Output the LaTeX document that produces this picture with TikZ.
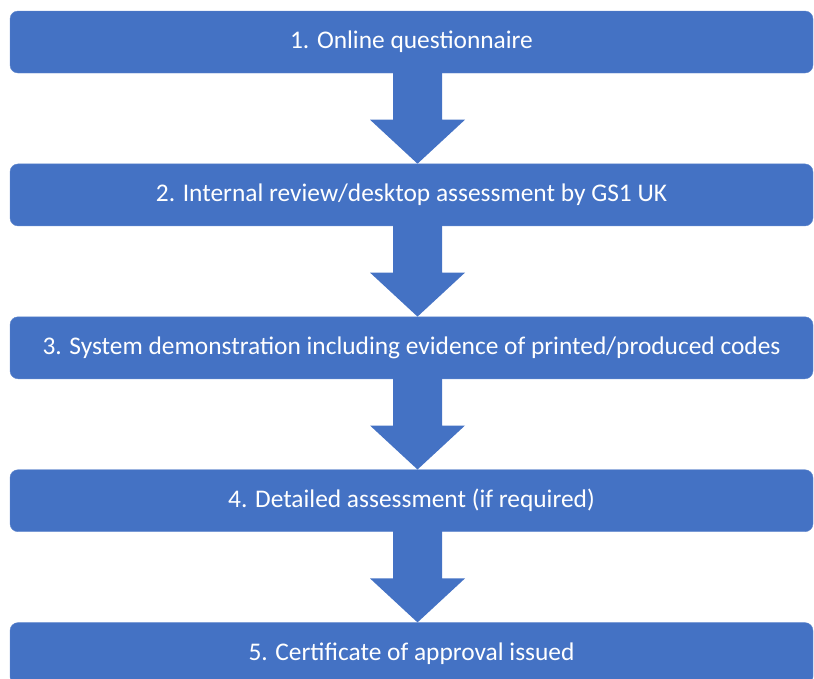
\documentclass[tikz,border=0pt]{standalone}
\usepackage{fontspec}
\setmainfont{Carlito}
\usetikzlibrary{positioning,calc}

\definecolor{officeblue}{HTML}{4472C4}

% block arrow between two steps
\newcommand{\flowarrow}[2]{%
  \fill[officeblue] let \p1=(#1.south), \p2=(#2.north) in
    (\x1-18.5pt,\y1+1pt) -- (\x1+30.5pt,\y1+1pt) -- (\x1+30.5pt,\y2+44pt)
    -- (\x1+53.5pt,\y2+44pt) -- (\x1+6pt,\y2) -- (\x1-41.5pt,\y2+44pt)
    -- (\x1-18.5pt,\y2+44pt) -- cycle;}

\begin{document}
\begin{tikzpicture}[x=1pt,y=-1pt,node distance=90.5pt,
    stepbox/.style={rectangle,rounded corners=8pt,fill=officeblue,
      draw=officeblue!85!white,minimum width=803pt,minimum height=62pt,
      inner sep=0pt,text=white,font=\fontsize{25.4}{29}\selectfont}]
  \useasboundingbox (0,0) rectangle (814,678);
  \begin{scope}
    \clip (0,0) rectangle (814,678);
    \node[stepbox] (s1) at (411.5,42) {1. Online questionnaire};
    \node[stepbox,below=of s1] (s2) {2. Internal review/desktop assessment by GS1 UK};
    \node[stepbox,below=of s2] (s3) {3. System demonstration including evidence of printed/produced codes};
    \node[stepbox,below=of s3] (s4) {4. Detailed assessment (if required)};
    \node[stepbox,below=of s4] (s5) {5. Certificate of approval issued};
  \end{scope}

  \flowarrow{s1}{s2}
  \flowarrow{s2}{s3}
  \flowarrow{s3}{s4}
  \flowarrow{s4}{s5}
\end{tikzpicture}
\end{document}
